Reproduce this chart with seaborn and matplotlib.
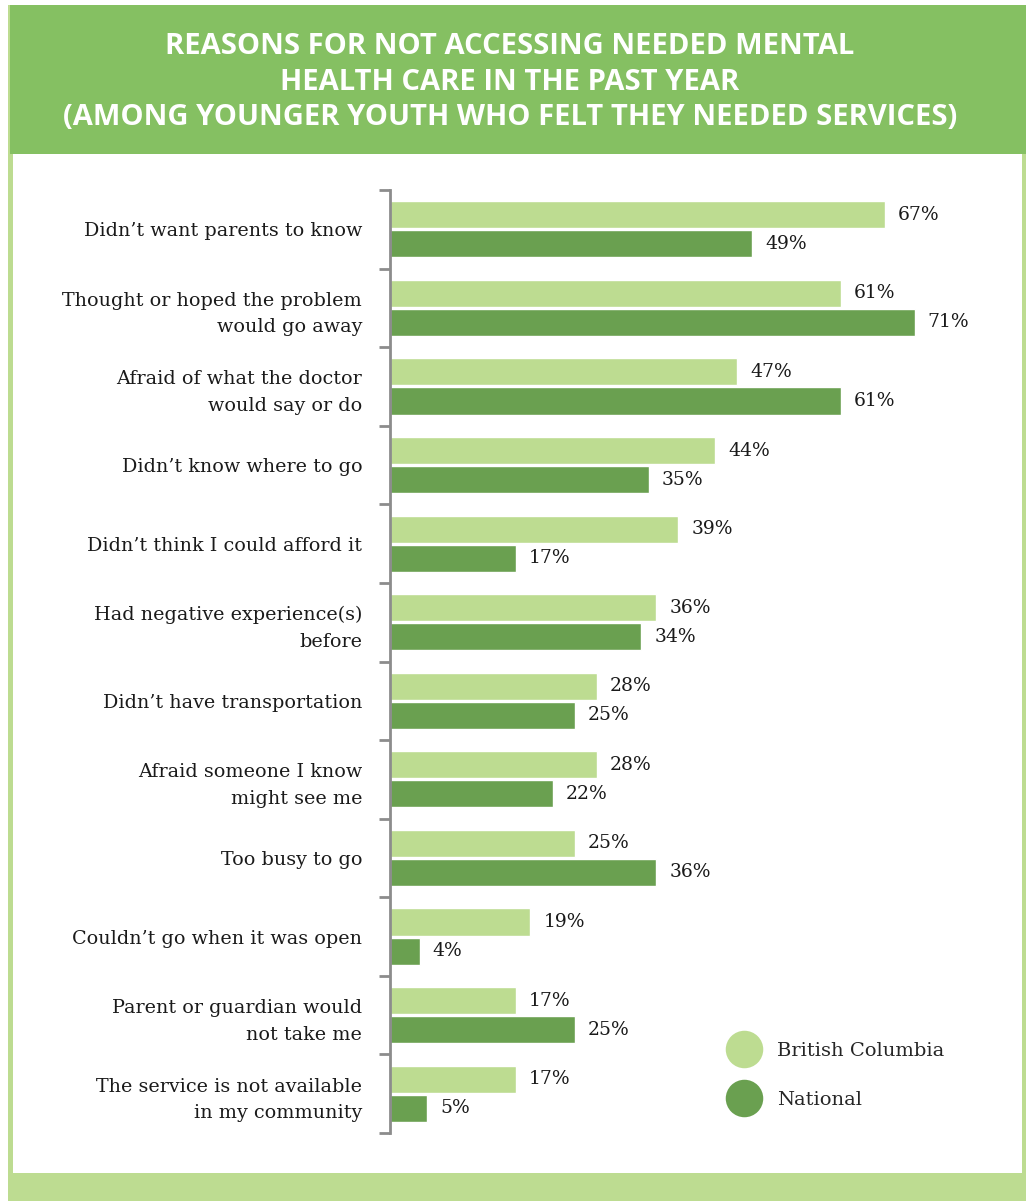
import matplotlib
matplotlib.use("Agg")
import matplotlib.pyplot as plt
from matplotlib.patches import Rectangle
from matplotlib.lines import Line2D
import seaborn as sns
import pandas as pd
import numpy as np

# Survey data: reasons for not accessing needed mental health care
reasons = [
    "Didn\u2019t want parents to know",
    "Thought or hoped the problem\nwould go away",
    "Afraid of what the doctor\nwould say or do",
    "Didn\u2019t know where to go",
    "Didn\u2019t think I could afford it",
    "Had negative experience(s)\nbefore",
    "Didn\u2019t have transportation",
    "Afraid someone I know\nmight see me",
    "Too busy to go",
    "Couldn\u2019t go when it was open",
    "Parent or guardian would\nnot take me",
    "The service is not available\nin my community",
]
bc_values = [67, 61, 47, 44, 39, 36, 28, 28, 25, 19, 17, 17]
national_values = [49, 71, 61, 35, 17, 34, 25, 22, 36, 4, 25, 5]
series_names = ["British Columbia", "National"]

title_text = ("REASONS FOR NOT ACCESSING NEEDED MENTAL\n"
              "HEALTH CARE IN THE PAST YEAR\n"
              "(AMONG YOUNGER YOUTH WHO FELT THEY NEEDED SERVICES)")

LIGHT = "#bddc91"
DARK = "#6aa050"
HEADER = "#85c062"

df = pd.DataFrame({
    "reason": reasons * 2,
    "value": bc_values + national_values,
    "region": [series_names[0]] * len(reasons) + [series_names[1]] * len(reasons),
})

sns.set_theme(style="white")
plt.rcParams["font.family"] = ["DejaVu Serif"]

W, H = 1026, 1201
fig = plt.figure(figsize=(W / 100, H / 100), dpi=100)
fig.patch.set_facecolor("white")

def px_rect(x0, y0, x1, y1, color, z):
    fig.patches.append(Rectangle((x0 / W, 1 - y1 / H), (x1 - x0) / W, (y1 - y0) / H,
                                 transform=fig.transFigure, facecolor=color,
                                 edgecolor="none", zorder=z))

# Frame, header banner and white panel
px_rect(8, 5, W, H, LIGHT, 0)
px_rect(10, 5, W, 154, HEADER, 1)
px_rect(13, 154, 1022, 1173, "white", 1)

fig.text(510 / W, 1 - 82 / H, title_text, ha="center", va="center",
         color="white", fontsize=21, fontweight="bold",
         family=["Open Sans", "DejaVu Sans"], linespacing=1.28, zorder=3)

# Axes: x=390..1018 px covers 0..85%, y=190..1133 px
ax = fig.add_axes([390 / W, 1 - 1133 / H, 628 / W, (1133 - 190) / H])
ax.set_zorder(2)
ax.patch.set_alpha(0)

sns.barplot(data=df, y="reason", x="value", hue="region", orient="h",
            palette=[LIGHT, DARK], width=0.74, gap=0.07, ax=ax,
            legend=False, errorbar=None, saturation=1)

ax.set_xlim(0, 85)
ax.set_ylim(len(reasons) - 0.5, -0.5)
ax.set_xlabel("")
ax.set_ylabel("")
ax.set_xticks([])

for cont in ax.containers:
    ax.bar_label(cont, labels=[f"{v:.0f}%" for v in cont.datavalues],
                 padding=9.5, fontsize=13.5, color="#1a1a1a")

ax.set_yticks(range(len(reasons)))
ax.set_yticklabels(reasons, fontsize=13.8, color="#1a1a1a", linespacing=1.6)
ax.tick_params(axis="y", which="major", length=0, pad=20)
ax.set_yticks(np.arange(-0.5, len(reasons)), minor=True)
ax.tick_params(axis="y", which="minor", length=8, width=2, color="#8c8c8c",
               direction="out", left=True)

for side in ["top", "right", "bottom"]:
    ax.spines[side].set_visible(False)
ax.spines["left"].set_color("#8c8c8c")
ax.spines["left"].set_linewidth(2)

handles = [Line2D([], [], marker="o", linestyle="", markersize=27,
                  markerfacecolor=c, markeredgecolor="none") for c in (LIGHT, DARK)]
fig.legend(handles, series_names, loc="upper left",
           bbox_to_anchor=(707 / W, 1 - 1024 / H), frameon=False,
           labelspacing=1.6, handletextpad=0.7,
           prop={"family": "DejaVu Serif", "size": 14})

fig.savefig("out.png", dpi=100, facecolor="white")
